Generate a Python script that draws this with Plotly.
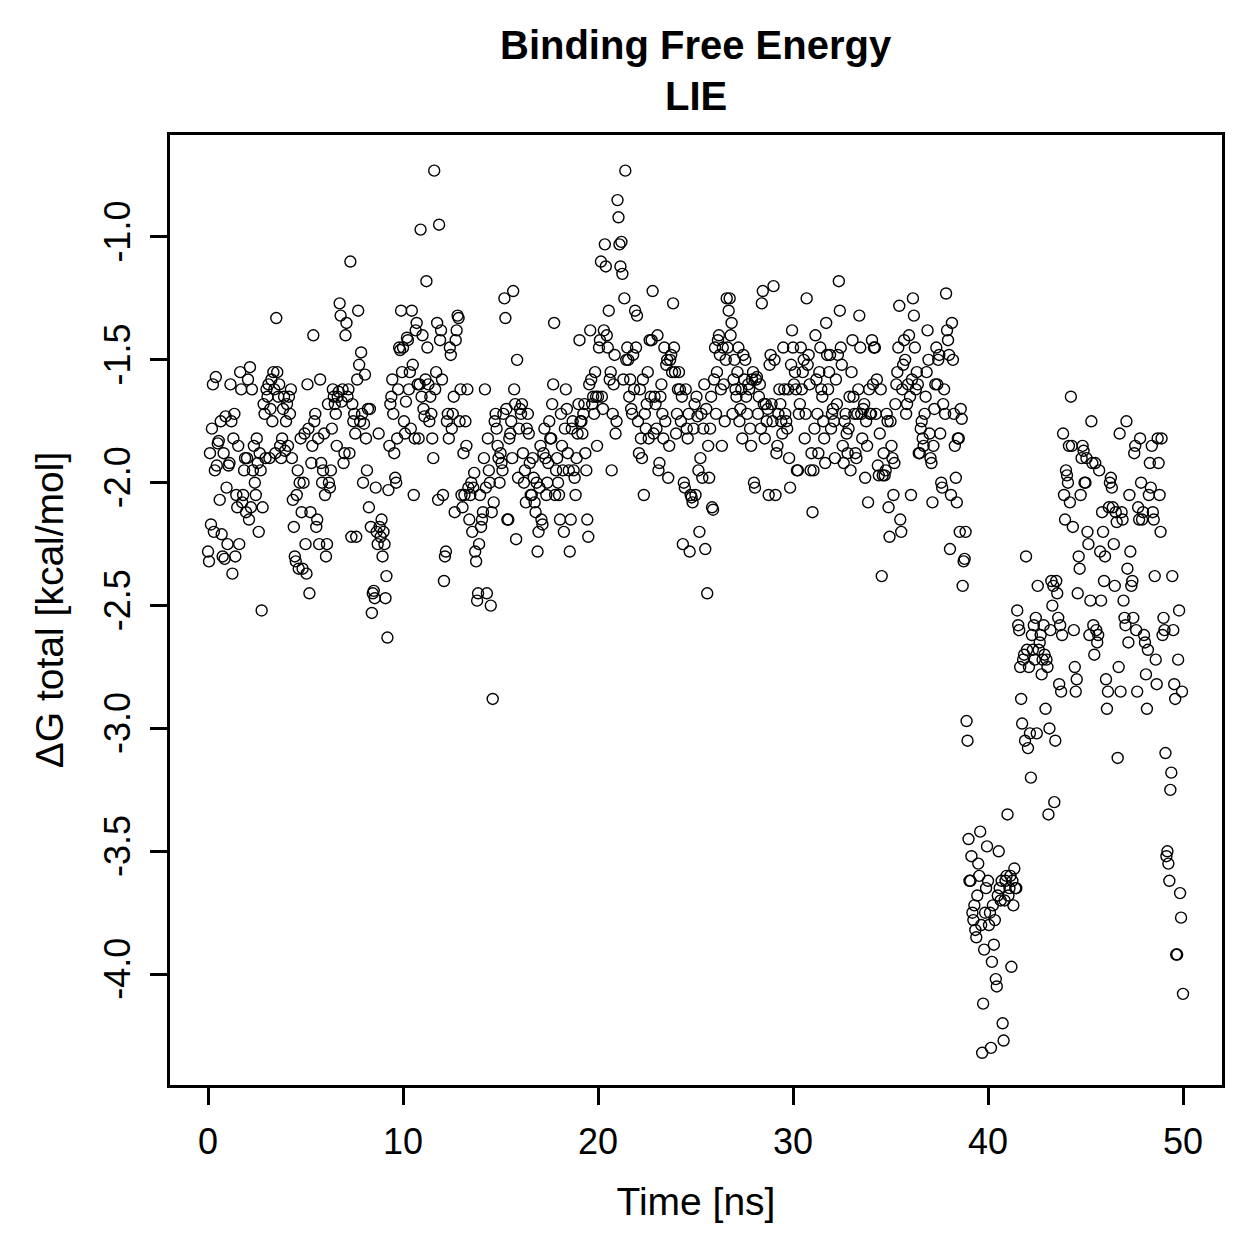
import plotly.graph_objects as go

# ΔG total [kcal/mol] per 0.05 ns frame (rows = 1 ns each)
dg_00_10 = [
    -2.28,-2.32,-1.88,-2.17,-1.78,-1.60,-2.20,-1.95,-1.57,-1.93,-1.84,-1.83,-2.07,-1.75,-2.21,-2.30,-1.88,-2.31,-1.73,-2.02,
    -2.25,-1.93,-1.92,-1.60,-1.75,-2.37,-1.82,-1.72,-2.30,-2.05,-2.10,-1.85,-2.25,-1.55,-1.62,-2.08,-2.05,-1.95,-1.90,-2.12,
    -1.90,-1.58,-2.15,-1.53,-2.10,-1.62,-1.95,-1.85,-2.00,-2.05,-1.82,-1.92,-2.20,-1.88,-1.95,-2.52,-2.10,-1.68,-1.72,-1.90,
    -1.62,-1.65,-1.60,-1.90,-1.70,-1.58,-1.75,-1.55,-1.62,-1.88,-1.33,-1.55,-1.65,-1.60,-1.85,-1.90,-1.82,-1.70,-1.65,-1.87,
    -1.75,-1.68,-1.85,-1.65,-1.72,-1.62,-1.90,-2.07,-2.18,-2.30,-2.32,-2.05,-1.95,-2.35,-2.00,-1.82,-2.12,-2.35,-2.00,-1.80,
    -2.25,-2.37,-1.60,-1.78,-2.45,-2.12,-1.92,-1.85,-1.40,-1.75,-1.72,-2.18,-2.15,-1.82,-2.25,-1.58,-1.92,-2.00,-1.95,-1.80,
    -2.05,-2.30,-2.25,-1.68,-2.00,-2.02,-1.95,-1.78,-1.62,-1.65,-1.68,-1.72,-1.85,-1.65,-1.63,-1.27,-1.32,-1.67,-1.62,-1.92,
    -1.88,-1.40,-1.35,-1.65,-1.62,-1.88,-1.10,-2.22,-1.68,-1.75,-1.72,-1.80,-2.22,-1.58,-1.30,-1.52,-1.75,-1.47,-1.72,-2.00,
    -1.76,-1.56,-1.82,-1.95,-1.70,-2.10,-1.70,-2.18,-2.53,-2.45,-2.44,-2.47,-2.02,-2.20,-2.25,-1.80,-2.18,-2.22,-2.15,-2.30,
    -2.20,-2.25,-2.47,-2.38,-2.63,-2.03,-1.85,-1.68,-1.65,-1.58,-1.72,-1.88,-1.98,-2.00,-1.82,-1.62,-1.45,-1.46,-1.30,-1.55,
]
dg_10_20 = [
    -1.45,-1.75,-1.80,-1.67,-1.41,-1.42,-1.62,-1.55,-1.78,-1.30,-1.52,-2.05,-1.82,-1.38,-1.35,-1.60,-1.82,-1.60,-0.97,-1.65,
    -1.40,-1.70,-1.73,-1.58,-1.18,-1.45,-1.60,-1.75,-1.65,-1.72,-1.82,-1.90,-0.73,-1.62,-1.55,-1.35,-2.07,-0.95,-1.42,-1.38,
    -1.58,-2.05,-2.40,-2.30,-2.28,-1.75,-1.72,-1.82,-1.45,-1.48,-1.78,-1.72,-1.65,-2.12,-1.42,-1.38,-1.32,-1.33,-1.75,-1.62,
    -2.05,-2.10,-1.88,-2.05,-1.75,-1.85,-1.62,-2.02,-2.15,-2.05,-2.00,-2.20,-2.02,-1.96,-2.28,-2.32,-2.48,-2.45,-2.25,-2.05,
    -2.18,-2.15,-2.12,-1.90,-1.62,-2.02,-2.45,-1.82,-1.95,-2.00,-2.50,-2.12,-2.88,-2.08,-1.75,-1.72,-1.78,-1.85,-1.90,-2.00,
    -1.88,-1.92,-1.95,-1.72,-1.25,-1.33,-1.70,-2.15,-2.15,-1.82,-1.80,-1.75,-1.90,-1.22,-1.62,-1.68,-2.23,-1.50,-1.98,-1.78,
    -1.70,-1.72,-1.68,-1.88,-2.00,-1.95,-2.08,-1.78,-1.72,-1.80,-1.92,-2.05,-2.05,-1.90,-1.98,-2.08,-2.12,-2.00,-2.28,-2.20,
    -2.02,-1.85,-2.15,-2.17,-1.88,-1.78,-1.90,-2.05,-2.00,-1.92,-1.75,-1.82,-1.82,-1.68,-1.60,-1.35,-2.05,-1.95,-1.90,-2.00,
    -2.05,-2.15,-1.72,-1.85,-1.95,-2.20,-1.78,-1.62,-1.70,-1.88,-1.95,-2.28,-2.15,-1.78,-1.75,-1.95,-1.98,-2.05,-1.90,-1.80,
    -1.68,-1.42,-1.75,-1.75,-1.80,-1.72,-1.68,-1.88,-1.95,-2.15,-2.22,-1.60,-1.38,-1.58,-1.68,-1.65,-1.72,-1.55,-1.65,-1.85,
]
dg_20_30 = [
    -1.65,-1.45,-1.42,-1.10,-1.65,-1.70,-1.38,-1.03,-1.12,-1.40,-1.45,-1.30,-1.58,-1.55,-1.95,-1.72,-1.60,-1.48,-1.80,-1.75,
    -0.85,-0.92,-1.03,-1.12,-1.02,-1.15,-1.58,-1.25,-0.73,-1.50,-1.45,-1.50,-1.65,-1.58,-1.70,-1.72,-1.48,-1.62,-1.30,-1.45,
    -1.32,-1.75,-1.88,-1.62,-1.82,-1.90,-1.58,-2.05,-1.72,-1.78,-1.68,-1.55,-1.82,-1.42,-1.65,-1.42,-1.22,-1.80,-1.65,-1.68,
    -1.78,-1.40,-1.95,-1.92,-1.65,-1.60,-1.72,-1.82,-1.45,-1.75,-1.52,-1.50,-1.98,-1.85,-1.50,-1.48,-1.55,-1.27,-1.45,-1.55,
    -1.80,-1.72,-1.62,-1.55,-1.62,-1.75,-1.65,-2.25,-2.00,-2.02,-1.62,-1.78,-1.82,-1.72,-2.28,-2.05,-2.06,-2.08,-1.78,-1.68,
    -2.05,-1.65,-1.73,-1.95,-2.20,-1.90,-1.72,-1.98,-1.78,-1.60,-2.27,-1.70,-2.45,-1.85,-1.98,-1.78,-1.65,-2.10,-2.11,-1.58,
    -1.45,-1.72,-1.55,-1.42,-1.40,-1.48,-1.62,-1.85,-1.45,-1.60,-1.75,-1.50,-1.25,-1.45,-1.30,-1.25,-1.40,-1.35,-1.72,-1.58,
    -1.50,-1.62,-1.65,-1.55,-1.45,-1.75,-1.70,-1.62,-1.82,-1.48,-1.58,-1.50,-1.65,-1.72,-1.60,-1.62,-1.78,-1.85,-1.58,-1.55,
    -2.00,-2.02,-1.58,-1.57,-1.72,-1.65,-1.60,-1.78,-1.27,-1.22,-1.68,-1.82,-1.68,-1.75,-1.70,-2.05,-1.52,-1.48,-1.68,-1.75,
    -1.20,-1.50,-2.05,-1.88,-1.85,-1.72,-1.62,-1.68,-1.75,-1.80,-1.45,-1.62,-1.72,-1.75,-1.78,-1.62,-1.90,-2.02,-1.52,-1.38,
]
dg_30_40 = [
    -1.45,-1.60,-1.55,-1.62,-1.95,-1.95,-1.72,-1.68,-1.45,-1.62,-1.55,-1.50,-1.82,-1.72,-1.25,-1.52,-1.48,-1.60,-1.95,-1.88,
    -2.12,-1.95,-1.78,-1.40,-1.58,-1.72,-1.88,-1.55,-1.45,-1.62,-1.65,-1.75,-1.82,-1.92,-1.35,-1.48,-1.62,-1.55,-1.48,-1.78,
    -1.72,-1.70,-1.75,-1.90,-1.58,-1.68,-1.48,-1.18,-1.30,-1.45,-1.52,-1.85,-1.92,-1.75,-1.72,-1.80,-1.88,-1.78,-1.65,-1.95,
    -1.55,-1.42,-1.65,-1.72,-1.88,-1.90,-1.72,-1.62,-1.32,-1.45,-1.72,-1.82,-1.70,-1.68,-1.98,-1.75,-1.85,-2.08,-1.62,-1.72,
    -1.72,-1.42,-1.60,-1.45,-1.45,-1.72,-1.58,-1.93,-1.97,-1.80,-1.62,-2.38,-1.97,-1.88,-1.97,-1.95,-1.72,-1.75,-2.10,-2.22,
    -1.75,-1.85,-1.90,-2.05,-1.92,-1.68,-1.60,-1.55,-1.45,-1.28,-2.15,-2.20,-1.62,-1.52,-1.42,-1.50,-1.72,-1.68,-1.60,-1.40,
    -1.65,-2.05,-1.58,-1.25,-1.32,-1.45,-1.62,-1.55,-1.60,-1.88,-1.88,-1.78,-1.75,-1.82,-1.85,-1.72,-1.65,-1.55,-1.38,-1.50,
    -1.80,-1.90,-1.92,-2.08,-1.85,-1.70,-1.60,-1.45,-1.60,-1.50,-1.48,-1.80,-2.00,-2.02,-1.68,-1.62,-1.72,-1.23,-1.38,-1.42,
    -1.48,-2.27,-2.05,-1.35,-1.50,-1.72,-1.85,-1.98,-2.08,-1.82,-1.82,-2.20,-1.70,-1.74,-2.42,-2.32,-2.31,-2.20,-2.97,-3.05,
    -3.45,-3.62,-3.62,-3.52,-3.75,-3.78,-3.72,-3.82,-3.85,-3.68,-3.55,-3.60,-3.42,-3.80,-4.32,-4.12,-3.90,-3.75,-3.65,-3.48,
]
dg_40_50 = [
    -3.62,-3.80,-3.75,-4.30,-3.95,-3.72,-3.88,-3.78,-4.02,-4.05,-3.68,-3.50,-3.65,-3.70,-3.62,-4.20,-4.27,-3.70,-3.62,-3.60,
    -3.35,-3.68,-3.65,-3.60,-3.97,-3.62,-3.72,-3.57,-3.65,-3.65,-2.52,-2.58,-2.60,-2.75,-2.88,-2.98,-2.72,-2.70,-3.05,-2.30,
    -2.68,-3.08,-2.75,-3.02,-3.20,-2.62,-2.68,-2.58,-2.72,-2.55,-3.02,-2.42,-2.68,-2.65,-2.62,-2.78,-2.72,-2.58,-2.70,-2.92,
    -2.72,-2.75,-3.35,-3.00,-2.60,-2.40,-2.50,-2.42,-3.30,-3.05,-2.40,-2.45,-2.55,-2.82,-2.58,-2.85,-2.62,-1.80,-2.05,-2.15,
    -1.95,-1.97,-2.00,-1.85,-2.08,-1.65,-1.85,-2.18,-2.60,-2.75,-2.85,-2.80,-2.45,-2.30,-2.35,-2.05,-1.90,-1.85,-1.87,-2.00,
    -2.00,-1.90,-2.20,-2.25,-2.62,-2.48,-1.75,-1.92,-2.58,-2.70,-1.92,-2.60,-2.65,-2.62,-1.95,-2.28,-2.48,-2.12,-2.20,-2.40,
    -2.30,-2.80,-2.92,-2.85,-2.10,-2.00,-1.98,-2.02,-2.10,-2.25,-2.42,-2.12,-2.16,-3.12,-2.75,-1.80,-2.85,-2.12,-2.15,-2.48,
    -2.55,-2.58,-1.75,-2.35,-2.65,-2.05,-2.28,-2.42,-2.40,-2.55,-1.88,-1.85,-2.60,-2.85,-2.10,-2.15,-1.82,-2.00,-2.15,-2.12,
    -2.62,-2.65,-2.78,-2.92,-2.68,-2.05,-1.92,-2.02,-1.85,-2.12,-2.15,-2.38,-2.72,-2.82,-1.82,-1.92,-2.05,-2.20,-1.82,-2.62,
    -2.55,-2.60,-3.10,-3.52,-3.50,-3.55,-3.62,-3.25,-3.18,-2.38,-2.60,-2.82,-2.88,-3.92,-3.92,-2.72,-2.52,-3.67,-3.77,-2.85,
    -4.08,
]

dg_total = dg_00_10 + dg_10_20 + dg_20_30 + dg_30_40 + dg_40_50
frame_step_ns = 0.05
time_ns = [round(i * frame_step_ns, 2) for i in range(len(dg_total))]

x_ticks = [0, 10, 20, 30, 40, 50]
y_ticks = [-1.0, -1.5, -2.0, -2.5, -3.0, -3.5, -4.0]
y_tick_text = ["-1.0", "-1.5", "-2.0", "-2.5", "-3.0", "-3.5", "-4.0"]

FONT = "Liberation Sans, Arial, Helvetica, sans-serif"

fig = go.Figure(
    go.Scatter(
        x=time_ns, y=dg_total, mode="markers",
        marker=dict(symbol="circle-open", size=11, color="black", line=dict(width=1.4, color="black")),
        hoverinfo="x+y",
    )
)

axis_common = dict(
    showgrid=False, zeroline=False, showline=True, linecolor="black", linewidth=2.5,
    mirror=True, ticks="outside", ticklen=17, tickwidth=2.5, tickcolor="black",
    tickfont=dict(family=FONT, size=36, color="black"),
)

fig.update_layout(
    width=1259, height=1259,
    paper_bgcolor="white", plot_bgcolor="white",
    margin=dict(l=170, r=37, t=135, b=174),
    showlegend=False,
    xaxis=dict(range=[-1.95, 52.0], tickvals=x_ticks, ticktext=[str(v) for v in x_ticks],
               ticklabelstandoff=6,
               title=dict(text="Time [ns]", font=dict(family=FONT, size=39, color="black"), standoff=27),
               **axis_common),
    yaxis=dict(range=[-4.451, -0.585], tickvals=y_ticks, ticktext=y_tick_text, tickangle=-90,
               ticklabelstandoff=6,
               title=dict(text="ΔG total [kcal/mol]", font=dict(family=FONT, size=39, color="black"), standoff=22),
               **axis_common),
)

plot_h = 1259 - 135 - 174
fig.add_annotation(text="<b>Binding Free Energy</b>", x=0.5, xref="paper",
                   y=1 + (135 - 45) / plot_h, yref="paper", yanchor="middle", showarrow=False,
                   font=dict(family=FONT, size=40, color="black"))
fig.add_annotation(text="<b>LIE</b>", x=0.5, xref="paper",
                   y=1 + (135 - 96) / plot_h, yref="paper", yanchor="middle", showarrow=False,
                   font=dict(family=FONT, size=40, color="black"))

fig.write_html("out.html")
